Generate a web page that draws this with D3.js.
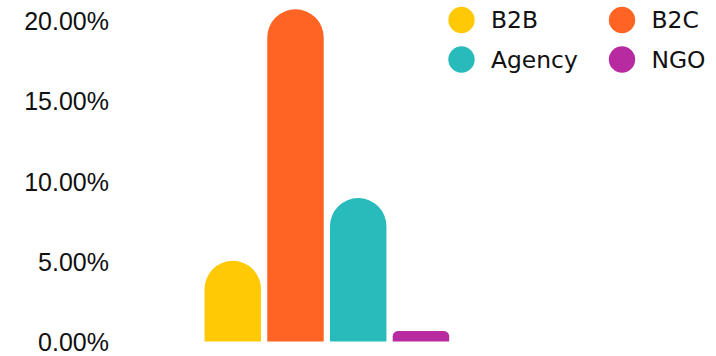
<!DOCTYPE html>
<html>
<head>
<meta charset="utf-8">
<script src="https://cdn.jsdelivr.net/npm/d3@7"></script>
<style>
  html, body { margin: 0; padding: 0; background: #fff; }
  svg { display: block; }
</style>
</head>
<body>
<svg id="chart" width="716" height="356"></svg>
<script>
  // ----------
  var series = ['B2B', 'B2C', 'Agency', 'NGO'];
  var values = [5.03, 20.7, 8.94, 0.65];
  var colors = ['#FFCA05', '#FF6424', '#29BBBB', '#B72AA0'];
  var yTicks = [0, 5, 10, 15, 20];

  var svg = d3.select('#chart');

  // ----------
  var y = d3.scaleLinear()
    .domain([0, 20])
    .range([341.5, 20.5]);

  var x = d3.scaleBand()
    .domain(series)
    .range([201.4, 452.3])
    .paddingInner(0.1)
    .paddingOuter(0.05);

  // ----------
  var yAxis = d3.axisLeft(y)
    .tickValues(yTicks)
    .tickSize(0)
    .tickPadding(0)
    .tickFormat(function(d) { return d.toFixed(2) + '%'; });

  var gy = svg.append('g')
    .attr('transform', 'translate(109,0)')
    .call(yAxis);
  gy.select('.domain').remove();
  gy.selectAll('text')
    .attr('fill', '#111')
    .attr('dy', '0.36em')
    .style('font-family', '"Liberation Sans", Arial, sans-serif')
    .style('font-size', '25px');

  // ----------
  function barPath(x0, y0, w, h) {
    var r = Math.min(w / 2, h / 2);
    var x1 = x0 + w, y1 = y0 + h;
    return 'M' + x0 + ',' + y1 +
      'L' + x0 + ',' + (y0 + r) +
      'A' + r + ',' + r + ' 0 0 1 ' + (x0 + r) + ',' + y0 +
      'L' + (x1 - r) + ',' + y0 +
      'A' + r + ',' + r + ' 0 0 1 ' + x1 + ',' + (y0 + r) +
      'L' + x1 + ',' + y1 + 'Z';
  }

  svg.append('g').selectAll('path')
    .data(series)
    .enter().append('path')
    .attr('fill', function(d, i) { return colors[i]; })
    .attr('d', function(d, i) {
      var top = y(values[i]);
      return barPath(x(d), top, x.bandwidth(), y(0) - top);
    });

  // ----------
  var legendPos = [[461.5, 20], [622, 20], [461.5, 59.5], [622, 59.5]];
  var legend = svg.append('g').selectAll('g')
    .data(series)
    .enter().append('g')
    .attr('transform', function(d, i) {
      return 'translate(' + legendPos[i][0] + ',' + legendPos[i][1] + ')';
    });

  legend.append('circle')
    .attr('r', 13.2)
    .attr('fill', function(d, i) { return colors[i]; });

  legend.append('text')
    .attr('x', 29.5)
    .attr('dy', '0.36em')
    .attr('fill', '#111')
    .style('font-family', '"DejaVu Sans", sans-serif')
    .style('font-size', '23.4px')
    .text(function(d) { return d; });
</script>
</body>
</html>
